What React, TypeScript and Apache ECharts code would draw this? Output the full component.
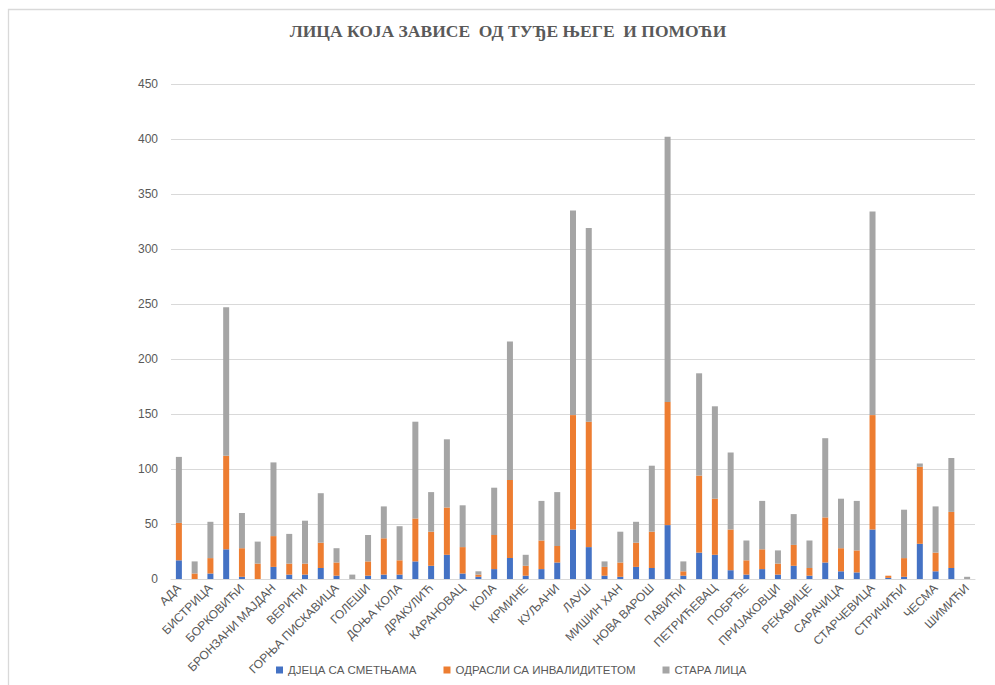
import React, { useEffect, useRef } from "react";
import * as echarts from "echarts";

// Мјесне заједнице (every other name is printed on the axis)
const categories = [
  "АДА", "БАСТАСИ", "БИСТРИЦА", "БОРИК", "БОРКОВИЋИ", "БОЧАЦ", "БРОНЗАНИ МАЈДАН",
  "БУЏАК", "ВЕРИЋИ", "ВРБАЊА", "ГОРЊА ПИСКАВИЦА", "ГОРЊИ ПЕРВАН", "ГОЛЕШИ",
  "ДЕБЕЉАЦИ", "ДОЊА КОЛА", "ДОЊИ ПЕРВАН", "ДРАКУЛИЋ", "ЗАЛУЖАНИ", "КАРАНОВАЦ",
  "КМЕЋАНИ", "КОЛА", "КОЧИЋЕВ ВИЈЕНАЦ", "КРМИНЕ", "КУЛАШИ", "КУЉАНИ", "ЛАЗАРЕВО",
  "ЛАУШ", "МАЊАЧА", "МИШИН ХАН", "МОТИКЕ", "НОВА ВАРОШ", "ОБИЛИЋЕВО", "ПАВИЋИ",
  "ПЕРВАН", "ПЕТРИЋЕВАЦ", "ПЛАНИНЦИ", "ПОБРЂЕ", "ПОТКОЗАРЈЕ", "ПРИЈАКОВЦИ",
  "ПРИЈЕЧАНИ", "РЕКАВИЦЕ", "РОСУЉЕ", "САРАЧИЦА", "СРПСКЕ ТОПЛИЦЕ", "СТАРЧЕВИЦА",
  "СТРАТИНСКА", "СТРИЧИЋИ", "ТУНЈИЦЕ", "ЧЕСМА", "ШАРГОВАЦ", "ШИМИЋИ",
];

const djecaSaSmetnjama = [
  17, 0, 5, 27, 2, 0, 11, 4, 4, 10, 3, 0, 3, 4, 4, 16, 12, 22, 5, 2, 9, 19, 3, 9, 15, 45,
  29, 3, 2, 11, 10, 49, 3, 24, 22, 8, 4, 9, 4, 12, 3, 15, 7, 6, 45, 1, 2, 32, 7, 10, 0,
];

const odrasliSaInvaliditetom = [
  34, 5, 14, 85, 26, 14, 28, 10, 10, 23, 12, 0, 13, 33, 13, 39, 31, 43, 24, 2, 31, 71, 9, 26,
  15, 104, 114, 8, 13, 22, 33, 112, 4, 70, 51, 37, 13, 18, 10, 19, 7, 41, 21, 20, 104, 2, 17,
  70, 17, 51, 0,
];

const staraLica = [
  60, 11, 33, 135, 32, 20, 67, 27, 39, 45, 13, 4, 24, 29, 31, 88, 36, 62, 38, 3, 43, 126, 10,
  36, 49, 186, 176, 5, 28, 19, 60, 241, 9, 93, 84, 70, 18, 44, 12, 28, 25, 72, 45, 45, 185, 0,
  44, 3, 42, 49, 2,
];

const seriesNames = ["ДЈЕЦА СА СМЕТЊАМА", "ОДРАСЛИ СА ИНВАЛИДИТЕТОМ", "СТАРА ЛИЦА"];
const seriesColors = ["#4472C4", "#ED7D31", "#A5A5A5"];

const chartTitle = "ЛИЦА КОЈА ЗАВИСЕ  ОД ТУЂЕ ЊЕГЕ  И ПОМОЋИ";

const FONT = "'Liberation Sans', Arial, sans-serif";
const TEXT_COLOR = "#595959";

export default function App() {
  const ref = useRef<HTMLDivElement>(null);

  useEffect(() => {
    if (!ref.current) return;
    const chart = echarts.init(ref.current, undefined, { renderer: "svg" });
    const values = [djecaSaSmetnjama, odrasliSaInvaliditetom, staraLica];

    chart.setOption({
      animation: false,
      backgroundColor: "#ffffff",
      textStyle: { fontFamily: FONT },
      graphic: [
        {
          type: "rect",
          silent: true,
          shape: { x: 8.5, y: 9.5, width: 1200, height: 900 },
          style: { fill: "none", stroke: "#d9d9d9", lineWidth: 1.3 },
        },
        {
          type: "text",
          x: 508,
          y: 31,
          style: {
            text: chartTitle,
            fill: TEXT_COLOR,
            font: "bold 17.5px 'Liberation Serif', 'Times New Roman', serif",
            textAlign: "center",
            textVerticalAlign: "middle",
          },
        },
      ],
      legend: {
        bottom: 4,
        left: 271,
        itemWidth: 7,
        itemHeight: 7,
        itemGap: 27,
        icon: "rect",
        textStyle: { color: TEXT_COLOR, fontSize: 11.5, fontFamily: FONT },
        data: seriesNames,
      },
      grid: { left: 171, right: 20, top: 84, bottom: 106, containLabel: false },
      xAxis: {
        type: "category",
        data: categories,
        axisLine: { lineStyle: { color: "#d9d9d9", width: 1 } },
        axisTick: { show: false },
        axisLabel: {
          interval: 1,
          rotate: 45,
          margin: 7,
          color: TEXT_COLOR,
          fontSize: 12,
          fontFamily: FONT,
        },
      },
      yAxis: {
        type: "value",
        min: 0,
        max: 450,
        interval: 50,
        axisLine: { show: false },
        axisTick: { show: false },
        axisLabel: { color: TEXT_COLOR, fontSize: 12, fontFamily: FONT, margin: 13 },
        splitLine: { lineStyle: { color: "#d9d9d9", width: 1 } },
      },
      series: seriesNames.map((name, i) => ({
        name,
        type: "bar",
        stack: "total",
        barWidth: 6,
        itemStyle: { color: seriesColors[i] },
        data: values[i],
      })),
    });

    return () => chart.dispose();
  }, []);

  return (
    <div
      ref={ref}
      style={{ position: "fixed", left: 0, top: 0, width: 995, height: 685 }}
    />
  );
}
